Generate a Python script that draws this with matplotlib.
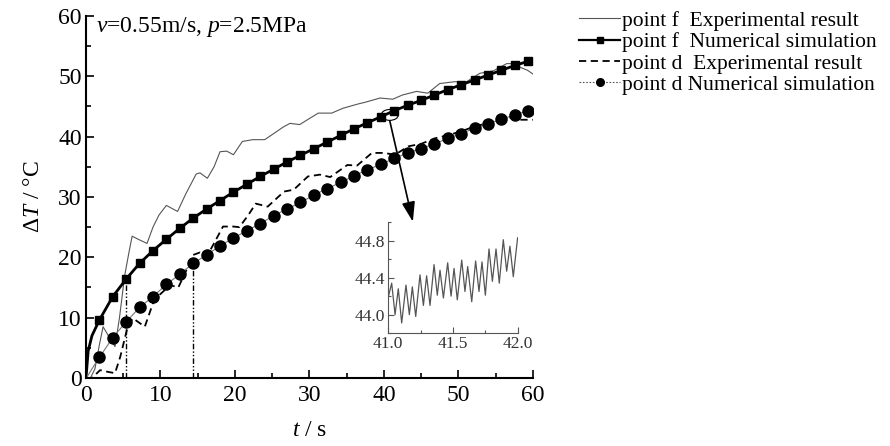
import numpy as np
import matplotlib
matplotlib.use("Agg")
import matplotlib.pyplot as plt
from matplotlib.patches import Ellipse
from matplotlib.ticker import MultipleLocator

plt.rcParams['font.family'] = ['Liberation Serif', 'DejaVu Serif']
plt.rcParams['mathtext.fontset'] = 'custom'
plt.rcParams['mathtext.rm'] = 'Liberation Serif'
plt.rcParams['mathtext.it'] = 'Liberation Serif:italic'

# point f, experimental (thin grey line)
t_f_exp = [0, 0.6, 1.2, 1.8, 2.3, 3.1, 3.9, 4.5, 5.2, 5.8, 6.2, 7.0, 8.2, 9.0, 9.8,
           10.8, 12.3, 13.4, 14.8, 15.3, 16.3, 17.2, 18.0, 18.9, 19.8, 21.0, 22.4,
           24.0, 25.2, 26.5, 27.4, 28.7, 30.0, 31.2, 33.0, 34.5, 36.5, 37.5, 39.5,
           41.2, 42.5, 44.4, 45.9, 47.5, 49.5, 51.1, 52.9, 54.7, 56.5, 57.4, 58.5,
           59.3, 60.0]
T_f_exp = [0, 0, 1.5, 5.5, 8.5, 6.8, 5.2, 10.0, 17.0, 21.0, 23.5, 23.0, 22.3, 25.0,
           27.0, 28.6, 27.6, 30.5, 33.8, 34.0, 33.1, 35.0, 37.5, 37.6, 37.0, 39.2,
           39.5, 39.5, 40.5, 41.6, 42.2, 42.0, 43.0, 43.9, 43.9, 44.7, 45.4, 45.7,
           46.4, 46.2, 46.9, 47.5, 47.2, 48.8, 49.1, 49.1, 50.5, 50.9, 52.1, 52.1,
           51.4, 51.0, 50.4]

# numerical simulation time points (markers every 1.8 s)
t_num = [0, 0.3, 0.8, 1.8, 3.6, 5.4, 7.2, 9.0, 10.8, 12.6, 14.4, 16.2, 18.0, 19.8,
         21.6, 23.4, 25.2, 27.0, 28.8, 30.6, 32.4, 34.2, 36.0, 37.8, 39.6, 41.4,
         43.2, 45.0, 46.8, 48.6, 50.4, 52.2, 54.0, 55.8, 57.6, 59.4]

# point f, numerical
T_f_num = [0, 4.5, 7.0, 9.6, 13.5, 16.4, 19.0, 21.1, 23.0, 24.8, 26.5, 28.0, 29.4,
           30.8, 32.1, 33.4, 34.6, 35.8, 36.9, 38.0, 39.1, 40.2, 41.3, 42.3, 43.3,
           44.3, 45.2, 46.0, 46.9, 47.8, 48.6, 49.4, 50.2, 51.0, 51.8, 52.5]

# point d, experimental (dashed)
t_d_exp = [0, 0.8, 1.9, 3.0, 3.9, 4.6, 5.6, 6.3, 7.9, 9.0, 9.9, 11.3, 12.4, 13.5,
           14.4, 15.3, 16.2, 17.1, 18.4, 19.8, 20.6, 21.8, 22.8, 24.4, 26.6, 27.9,
           29.8, 31.4, 32.8, 35.1, 36.4, 38.4, 40.0, 41.5, 43.3, 45.0, 46.8, 48.5,
           50.2, 52.0, 53.8, 55.6, 57.6, 58.3, 60.0]
T_d_exp = [0, 0, 1.3, 1.0, 0.8, 3.5, 8.5, 9.9, 8.5, 12.4, 13.8, 15.4, 15.0, 17.9,
           20.4, 20.8, 20.1, 22.1, 25.1, 25.1, 25.0, 27.0, 28.9, 28.4, 30.9, 31.2,
           33.4, 33.7, 33.3, 35.3, 35.2, 37.3, 37.3, 37.0, 38.4, 38.8, 39.7, 40.2,
           40.8, 41.6, 42.2, 42.8, 43.3, 42.8, 42.8]

# point d, numerical
T_d_num = [0, 0.5, 1.5, 3.4, 6.7, 9.3, 11.7, 13.5, 15.5, 17.2, 19.0, 20.4, 21.9,
           23.2, 24.4, 25.6, 26.9, 28.0, 29.1, 30.3, 31.4, 32.4, 33.5, 34.5, 35.4,
           36.4, 37.3, 38.0, 38.8, 39.7, 40.5, 41.4, 42.1, 42.9, 43.6, 44.3]

# inset: point f experimental, zoomed 41-42 s
t_zoom = [41.000, 41.028, 41.054, 41.079, 41.105, 41.138, 41.164, 41.187, 41.213,
          41.246, 41.272, 41.297, 41.323, 41.354, 41.379, 41.400, 41.426, 41.459,
          41.485, 41.508, 41.533, 41.567, 41.592, 41.613, 41.644, 41.674, 41.700,
          41.723, 41.749, 41.777, 41.803, 41.831, 41.856, 41.887, 41.913, 41.938,
          41.964, 41.997]
T_zoom = [44.18, 44.34, 44.00, 44.28, 43.91, 44.32, 44.00, 44.30, 43.98, 44.43,
          44.10, 44.42, 44.10, 44.54, 44.21, 44.48, 44.18, 44.56, 44.20, 44.50,
          44.16, 44.59, 44.25, 44.52, 44.14, 44.58, 44.25, 44.57, 44.21, 44.71,
          44.36, 44.71, 44.34, 44.81, 44.47, 44.74, 44.41, 44.83]

fig = plt.figure(figsize=(8.9, 4.46), dpi=100)
ax = fig.add_axes([0.0966, 0.1525, 0.502, 0.8117])

l1, = ax.plot(t_f_exp, T_f_exp, color='#555555', lw=0.8)
l2, = ax.plot(t_num, T_f_num, color='black', lw=2.0, marker='s', markersize=6,
              markevery=range(3, len(t_num)))
l3, = ax.plot(t_d_exp, T_d_exp, color='black', lw=1.3, dashes=(4, 2.5))
l4, = ax.plot(t_num, T_d_num, color='#777777', lw=0.8, marker='o', markersize=8,
              markerfacecolor='black', markeredgecolor='black',
              markevery=range(3, len(t_num)))
# legend handles (smaller markers like the original)
h2, = ax.plot([], [], color='black', lw=1.6, marker='s', markersize=4.5)
h4, = ax.plot([], [], color='#555555', lw=0.8, ls=(0, (1.5, 1.5)), marker='o',
              markersize=5.5, markerfacecolor='black', markeredgecolor='black')

# vertical guide lines at the two marked points
ax.vlines(t_num[5], 0, T_f_num[5], colors='black', lw=1.0, linestyles=(0, (4, 1.5, 1, 1.5, 1, 1.5)))
ax.vlines(t_num[10], 0, T_d_num[10], colors='black', lw=1.0, linestyles=(0, (4, 1.5, 1, 1.5, 1, 1.5)))

# ellipse and arrow to inset
ax.add_patch(Ellipse((40.8, 43.6), 2.3, 1.8, fill=False, lw=0.8, ec='black'))
ax.annotate('', xy=(43.9, 25.9), xytext=(40.8, 42.6),
            arrowprops=dict(arrowstyle='-|>,head_length=1.2,head_width=0.4',
                            color='black', lw=1.2, shrinkA=0, shrinkB=0))

ax.text(1.3, 58.2, r'$v$=0.55m/s, $p$=2.5MPa', fontsize=17, va='center', ha='left')

ax.set_xlim(0, 60)
ax.set_ylim(0, 60)
ax.xaxis.set_major_locator(MultipleLocator(10))
ax.xaxis.set_minor_locator(MultipleLocator(5))
ax.yaxis.set_major_locator(MultipleLocator(10))
ax.yaxis.set_minor_locator(MultipleLocator(5))
ax.tick_params(which='both', direction='in', labelsize=17, width=1.2)
ax.tick_params(which='major', length=6)
ax.tick_params(which='minor', length=3.5)
ax.tick_params(axis='x', pad=5)
ax.tick_params(axis='y', pad=3)
for s in ['top', 'right']:
    ax.spines[s].set_visible(False)
for s in ['left', 'bottom']:
    ax.spines[s].set_linewidth(1.5)

ax.set_xlabel(r'$t$ / s', fontsize=17, labelpad=10)
ax.set_ylabel(r'$\Delta T$ / °C', fontsize=17, labelpad=10)

fig.legend([l1, h2, l3, h4],
           ['point f  Experimental result', 'point f  Numerical simulation',
            'point d  Experimental result', 'point d Numerical simulation'],
           loc='upper left', bbox_to_anchor=(0.641, 0.995), frameon=False,
           fontsize=15.5, handlelength=1.9, handletextpad=0.1, labelspacing=0.06,
           borderaxespad=0)

# inset
axin = fig.add_axes([0.436, 0.253, 0.146, 0.249])
axin.plot(t_zoom, T_zoom, color='#555555', lw=0.9)
axin.set_xlim(41.0, 42.0)
axin.set_ylim(43.8, 45.0)
axin.set_xticks([41.0, 41.5, 42.0])
axin.set_xticklabels(['41.0', '41.5', '42.0'])
axin.set_yticks([44.0, 44.4, 44.8])
axin.set_yticklabels(['44.0', '44.4', '44.8'])
axin.xaxis.set_minor_locator(MultipleLocator(0.25))
axin.yaxis.set_minor_locator(MultipleLocator(0.2))
axin.tick_params(which='both', direction='in', labelsize=12.5, width=0.8,
                 color='#555555', labelcolor='#333333', pad=2)
axin.tick_params(which='major', length=4)
axin.tick_params(which='minor', length=2.5)
for s in ['top', 'right']:
    axin.spines[s].set_visible(False)
for s in ['left', 'bottom']:
    axin.spines[s].set_linewidth(0.8)
    axin.spines[s].set_color('#555555')
axin.patch.set_alpha(0)

fig.savefig('out.png', dpi=100)
